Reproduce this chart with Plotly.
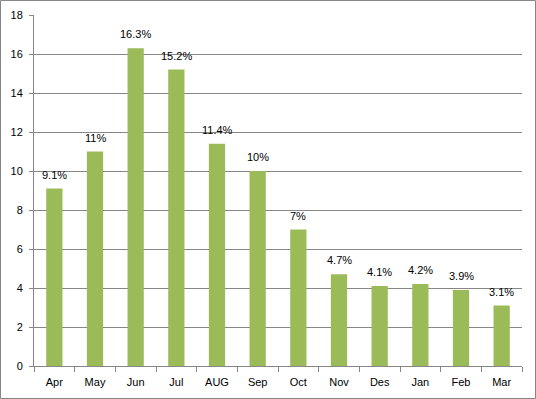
import plotly.graph_objects as go

months = ["Apr", "May", "Jun", "Jul", "AUG", "Sep", "Oct", "Nov", "Des", "Jan", "Feb", "Mar"]
values = [9.1, 11, 16.3, 15.2, 11.4, 10, 7, 4.7, 4.1, 4.2, 3.9, 3.1]
labels = ["9.1%", "11%", "16.3%", "15.2%", "11.4%", "10%", "7%", "4.7%", "4.1%", "4.2%", "3.9%", "3.1%"]
y_ticks = [0, 2, 4, 6, 8, 10, 12, 14, 16, 18]

font = "Liberation Sans"
fig = go.Figure(go.Bar(
    x=months, y=values,
    marker=dict(color="#9BBB59", line=dict(width=0)),
    hoverinfo="skip",
))
for m, v, t in zip(months, values, labels):
    fig.add_annotation(x=m, y=v, text=t, showarrow=False, yanchor="bottom", yshift=6,
                       font=dict(family=font, size=11, color="#000000"))
fig.update_layout(
    width=536, height=399,
    margin=dict(l=34, r=14, t=15, b=33, autoexpand=False),
    paper_bgcolor="white", plot_bgcolor="white",
    bargap=0.6, showlegend=False,
    font=dict(family=font, size=11, color="#000000"),
)
fig.update_xaxes(
    showline=True, linecolor="#868686", linewidth=1,
    ticks="outside", ticklen=5, tickcolor="#868686", tickson="boundaries",
    showgrid=False, tickfont=dict(size=11), ticklabelstandoff=6,
)
fig.update_yaxes(
    range=[0, 18], tickvals=y_ticks, showline=True, linecolor="#868686", linewidth=1,
    ticks="outside", ticklen=4, tickcolor="#868686",
    showgrid=True, gridcolor="#868686", gridwidth=1, zeroline=False,
    tickfont=dict(size=11), ticklabelstandoff=4,
)
fig.add_shape(type="rect", xref="paper", yref="paper", x0=-33.5/488, x1=1+13.5/488, y0=-32.5/351, y1=1+14.5/351,
              line=dict(color="#868686", width=1), fillcolor="rgba(0,0,0,0)", layer="below")
fig.write_html("out.html", config={"displayModeBar": False},
               post_script="document.body.style.margin='0';document.body.style.padding='0';")
